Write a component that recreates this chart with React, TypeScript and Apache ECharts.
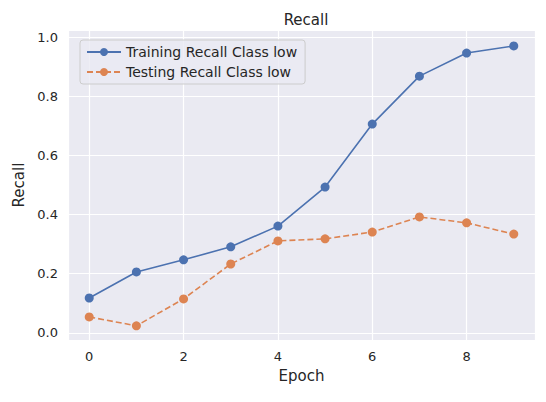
import React, { useEffect, useRef } from "react";
import * as echarts from "echarts";

const epochs = [0, 1, 2, 3, 4, 5, 6, 7, 8, 9];
const trainRecall = [0.118, 0.206, 0.247, 0.291, 0.361, 0.493, 0.706, 0.868, 0.946, 0.97];
const testRecall = [0.054, 0.024, 0.115, 0.233, 0.311, 0.318, 0.341, 0.392, 0.372, 0.334];
const xTicks = [0, 2, 4, 6, 8];
const yTicks = [0, 0.2, 0.4, 0.6, 0.8, 1.0];

export default function App() {
  const ref = useRef<HTMLDivElement>(null);
  useEffect(() => {
    const chart = echarts.init(ref.current!, null, { renderer: "svg" });
    const font = "DejaVu Sans";
    chart.setOption({
      animation: false,
      textStyle: { fontFamily: font },
      title: {
        text: "Recall", left: 301, top: 7, textAlign: "center",
        textStyle: { fontSize: 15, fontWeight: "normal", color: "#262626", fontFamily: font },
      },
      grid: { left: 68, right: 11, top: 30, bottom: 62, backgroundColor: "#EAEAF2", show: true, borderWidth: 0 },
      legend: {
        orient: "vertical", left: 80, top: 40, itemGap: 6,
        backgroundColor: "rgba(234,234,242,0.8)", borderColor: "#cccccc", borderWidth: 1, borderRadius: 3,
        padding: [5, 8, 5, 6], itemWidth: 34, itemHeight: 10,
        textStyle: { fontSize: 14, color: "#262626", fontFamily: font },
      },
      xAxis: {
        type: "value", min: -0.45, max: 9.45,
        name: "Epoch", nameLocation: "middle", nameGap: 28,
        nameTextStyle: { fontSize: 15, color: "#262626", fontFamily: font },
        axisLine: { show: false }, axisTick: { show: false },
        axisLabel: { customValues: xTicks, fontSize: 13, color: "#262626", margin: 10 },
        splitLine: { show: true, lineStyle: { color: "#fff", width: 1.2 } },
      },
      yAxis: {
        type: "value", min: -0.024, max: 1.024,
        name: "Recall", nameLocation: "middle", nameGap: 42,
        nameTextStyle: { fontSize: 15, color: "#262626", fontFamily: font },
        axisLine: { show: false }, axisTick: { show: false },
        axisLabel: { customValues: yTicks, fontSize: 13, color: "#262626", margin: 10, formatter: (v: number) => v.toFixed(1) },
        splitLine: { show: true, lineStyle: { color: "#fff", width: 1.2 } },
      },
      series: [
        {
          name: "Training Recall Class low", type: "line", symbol: "circle", symbolSize: 9,
          data: epochs.map((e, i) => [e, trainRecall[i]]),
          itemStyle: { color: "#4C72B0" }, lineStyle: { color: "#4C72B0", width: 1.6 },
        },
        {
          name: "Testing Recall Class low", type: "line", symbol: "circle", symbolSize: 9,
          data: epochs.map((e, i) => [e, testRecall[i]]),
          itemStyle: { color: "#DD8452" }, lineStyle: { color: "#DD8452", width: 1.6, type: [6, 3] },
        },
      ],
    });
    return () => chart.dispose();
  }, []);
  return <div ref={ref} style={{ width: 546, height: 402, position: "absolute", left: 0, top: 0 }} />;
}
